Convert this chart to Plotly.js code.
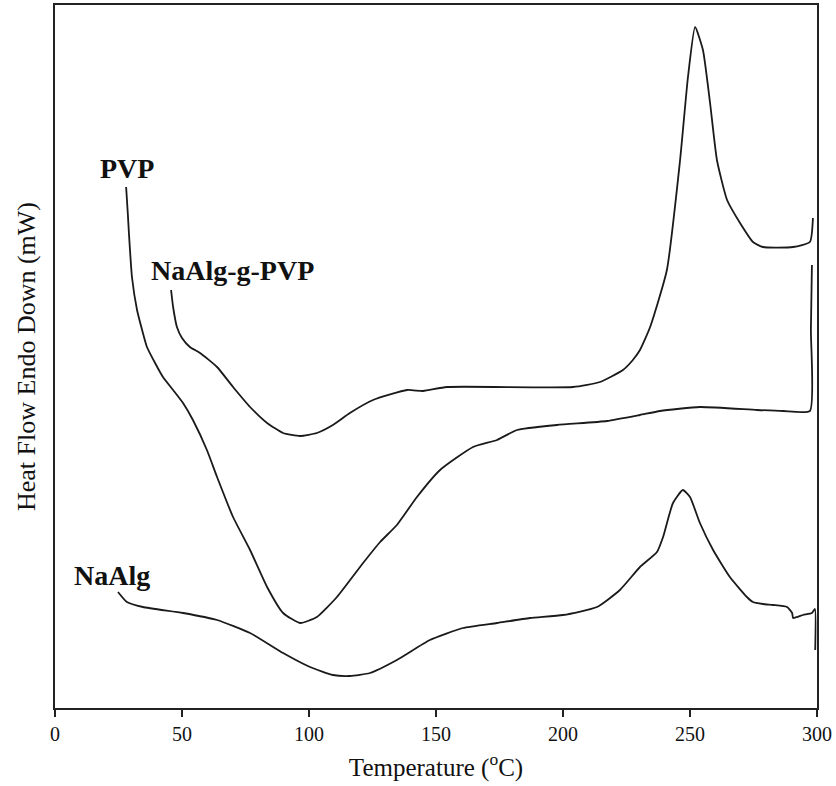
<!DOCTYPE html>
<html>
<head>
<meta charset="utf-8">
<script src="https://cdn.plot.ly/plotly-3.0.1.min.js"></script>
<style>html,body{margin:0;padding:0;background:#fff;}#chart{width:836px;height:786px;}</style>
</head>
<body>
<div id="chart"></div>
<script>
// Temperature (°C) and heat flow (arbitrary units)
const pvpT = [28.0, 28.7, 29.1, 30.3, 32.3, 34.3, 36.2, 39.4, 42.5, 46.5, 50.4, 54.3, 59.8, 63.8, 70.1, 76.8, 83.5, 89.8, 96.5, 103.1, 111.0, 121.3, 128.0, 134.6, 142.5, 151.6, 164.6, 174.0, 181.9, 197.6, 217.3, 230.3, 238.2, 253.9, 276.4, 286.6, 297.2, 297.6, 298.0];
const pvpY = [521, 493, 475, 431, 398, 378, 361, 345, 331, 318, 305, 288, 258, 231, 191, 158, 121, 95, 85, 91, 111, 145, 166, 183, 211, 238, 261, 268, 278, 283, 287, 293, 297, 301, 298, 297, 297, 378, 443];

const graftT = [45.7, 46.5, 48.0, 50.0, 53.1, 57.1, 63.8, 70.1, 76.8, 83.5, 89.8, 96.5, 103.1, 109.4, 116.1, 125.2, 138.6, 144.9, 154.3, 203.9, 214.6, 223.6, 227.5, 230.3, 234.3, 240.9, 246.1, 249.2, 252.0, 255.1, 257.9, 260.6, 264.6, 269.7, 274.8, 278.7, 290.6, 297.2, 298.4];
const graftY = [418, 401, 381, 370, 361, 355, 341, 321, 301, 285, 275, 272, 275, 283, 295, 308, 318, 317, 321, 321, 326, 338, 348, 358, 381, 438, 548, 631, 681, 658, 605, 548, 508, 485, 466, 461, 461, 466, 490];

const naalgT = [24.8, 28.3, 34.6, 50.4, 63.8, 76.8, 89.8, 100.4, 109.4, 116.1, 124.0, 134.6, 147.6, 160.6, 174.0, 187.0, 200.0, 213.4, 222.4, 230.3, 237.0, 239.4, 243.3, 247.2, 250.0, 253.9, 259.1, 265.7, 272.4, 274.8, 278.7, 282.7, 288.2, 290.2, 290.6, 294.5, 298.0, 299.2, 299.3];
const naalgY = [116, 106, 101, 95, 88, 75, 55, 41, 33, 32, 35, 48, 68, 80, 85, 90, 93, 101, 118, 141, 156, 171, 205, 218, 211, 185, 158, 131, 111, 106, 104, 103, 101, 95, 90, 93, 95, 99, 58];

const labels = ["PVP", "NaAlg-g-PVP", "NaAlg"];
const labelT = [28.5, 70.0, 22.4];
const labelY = [540, 438, 133];

const xTicks = [0, 50, 100, 150, 200, 250, 300];

const serif = "Liberation Serif, Times New Roman, serif";
const traces = [
  {x: pvpT, y: pvpY, name: labels[0]},
  {x: graftT, y: graftY, name: labels[1]},
  {x: naalgT, y: naalgY, name: labels[2]}
].map(t => Object.assign(t, {
  type: "scatter", mode: "lines", hoverinfo: "x+y",
  line: {color: "#1a1a1a", width: 1.8, shape: "spline", smoothing: 0.5}
}));

const annotations = labels.map((txt, i) => ({
  x: labelT[i], y: labelY[i], xref: "x", yref: "y",
  text: "<b>" + txt + "</b>", showarrow: false,
  xanchor: "center", yanchor: "middle",
  font: {family: serif, size: 28, color: "#111"}
}));

const layout = {
  width: 836, height: 786,
  margin: {l: 55, r: 19, t: 5, b: 78},
  paper_bgcolor: "#fff", plot_bgcolor: "#fff",
  showlegend: false,
  font: {family: serif, color: "#111"},
  xaxis: {
    range: [0, 300], tickvals: xTicks, ticktext: xTicks.map(String),
    ticks: "outside", ticklen: 7, tickwidth: 1.5, tickcolor: "#222",
    showline: true, linecolor: "#222", linewidth: 2, mirror: true,
    showgrid: false, zeroline: false,
    tickfont: {family: serif, size: 20, color: "#111"},
    title: {text: "Temperature (<sup>o</sup>C)", font: {family: serif, size: 25, color: "#111"}, standoff: 14}
  },
  yaxis: {
    range: [0, 703], showticklabels: false, ticks: "",
    showline: true, linecolor: "#222", linewidth: 2, mirror: true,
    showgrid: false, zeroline: false,
    title: {text: "Heat Flow Endo Down (mW)", font: {family: serif, size: 26, color: "#111"}, standoff: 10}
  },
  annotations: annotations
};

Plotly.newPlot("chart", traces, layout, {displayModeBar: false, staticPlot: true});
</script>
</body>
</html>
